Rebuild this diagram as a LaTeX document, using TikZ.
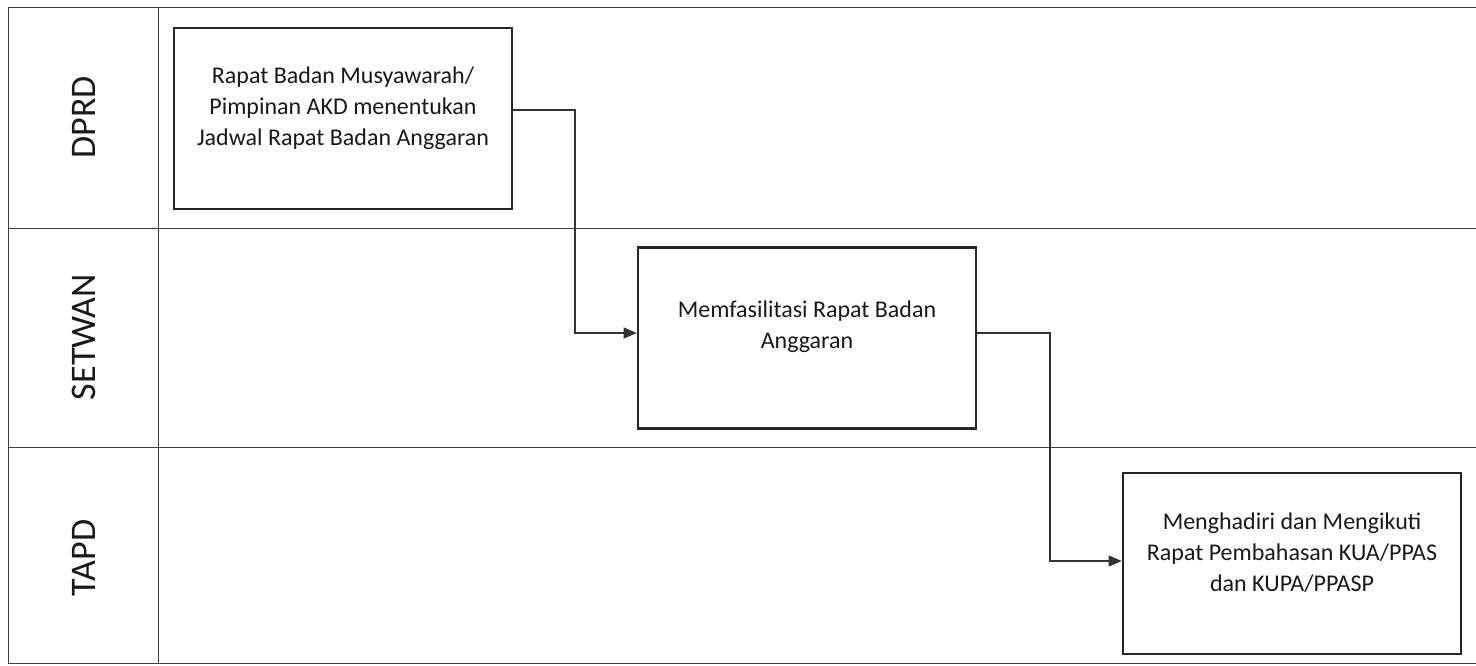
\documentclass[tikz,border=0pt]{standalone}
\usepackage{fontspec}
\setmainfont{Carlito}
\usetikzlibrary{arrows.meta}
\begin{document}
\begin{tikzpicture}[x=1pt,y=-1pt,
  lane/.style={draw=black!75,line width=1pt},
  stepbox/.style={draw=black!85,line width=2.6pt,minimum width=338pt,minimum height=181pt,inner sep=0pt},
  steptext/.style={align=center,font=\fontsize{24}{31}\selectfont,text=black!90,inner sep=0pt},
  lanelabel/.style={rotate=90,font=\fontsize{36}{40}\selectfont,text=black!90},
  conn/.style={draw=black!80,line width=1.2pt,-{Triangle[length=13pt,width=11pt]}}]
\useasboundingbox (0,0) rectangle (1476,666);
\fill[white] (0,0) rectangle (1476,666);
% lanes
\draw[lane] (1480,8) -- (8,8) -- (8,663) -- (1480,663);
\draw[lane] (8,228) -- (1480,228);
\draw[lane] (8,447) -- (1480,447);
\draw[lane] (158,8) -- (158,663);
\node[lanelabel] (l1) at (84,117.5) {DPRD};
\node[lanelabel] (l2) at (84,337) {SETWAN};
\node[lanelabel] (l3) at (84,558) {TAPD};
% boxes
\node[stepbox] (b1) at (343,118.5) {};
\node[stepbox] (b2) at (807,338) {};
\node[stepbox] (b3) at (1292,563.5) {};
\node[steptext] (t1) at ([yshift=10.5pt]b1.center) {Rapat Badan Musyawarah/\\Pimpinan AKD menentukan\\Jadwal Rapat Badan Anggaran};
\node[steptext] (t2) at ([yshift=11.5pt]b2.center) {Memfasilitasi Rapat Badan\\Anggaran};
\node[steptext] (t3) at ([yshift=10.5pt]b3.center) {Menghadiri dan Mengikuti\\Rapat Pembahasan KUA/PPAS\\dan KUPA/PPASP};
% connectors
\coordinate (c1) at (575,110);
\coordinate (c2) at (1050,333);
\draw[conn] (b1.east |- c1) -- (c1) |- (b2.west |- c2);
\draw[conn] (b2.east |- c2) -- (c2) |- (b3.west |- 0,561);
\end{tikzpicture}
\end{document}
